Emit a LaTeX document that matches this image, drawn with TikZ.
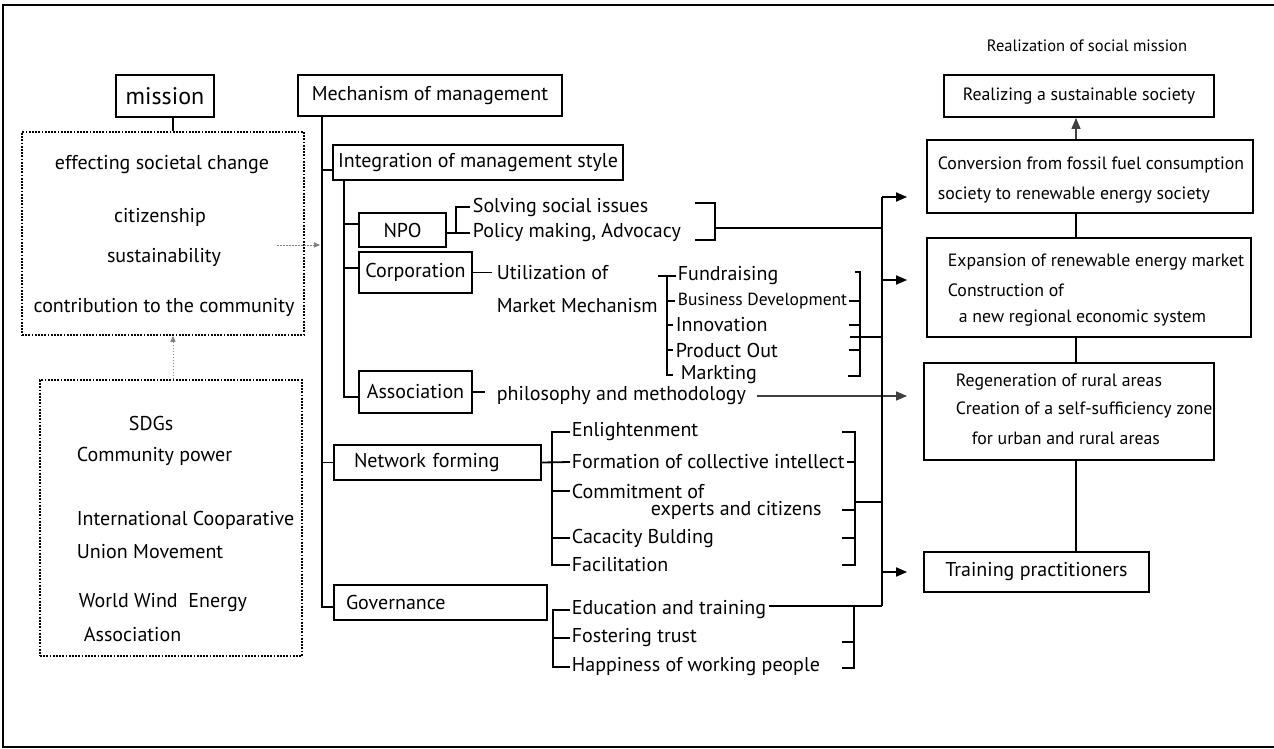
\documentclass[tikz,border=0pt]{standalone}
\usepackage{fontspec}
\setmainfont{PT Sans}
\usetikzlibrary{arrows.meta}

\newcommand{\fsz}[1]{\fontsize{#1}{#1}\selectfont}

\begin{document}
\begin{tikzpicture}[x=1pt,y=-1pt,>={Triangle[length=11pt,width=9pt]},
                    line width=1.8pt,font=\fsz{20}]
  \tikzstyle{box}=[draw,rectangle,inner sep=0pt,align=center]
  \tikzstyle{txt}=[inner sep=0pt,anchor=west]
  \tikzstyle{small}=[font=\fsz{17.8}]
  \tikzstyle{dotbox}=[draw,rectangle,dash pattern=on 1.8pt off 1.4pt]
  \tikzstyle{dotarrow}=[->,>={Triangle[length=6pt,width=5pt]},gray,line width=1pt,
                        dash pattern=on 1.5pt off 1.5pt]
  \tikzstyle{thinline}=[line width=1.3pt,black!75]

  \useasboundingbox (0,0) rectangle (1274,749);
  \draw[line width=2.4pt] (1290,5) -- (3,5) -- (3,747) -- (1290,747);

  % mission side
  \node[box,minimum width=98pt,minimum height=42pt,font=\fsz{24}] (mission) at (165,96) {mission};
  \node[dotbox,minimum width=282pt,minimum height=203pt] (values) at (163,233.5) {};
  \node (change)  at (162,165) {effecting societal change};
  \node (citizen) at (160,217) {citizenship};
  \node (sustain) at (164,257) {sustainability};
  \node (contrib) at (164,307) {contribution to the community};

  \node[dotbox,minimum width=262pt,minimum height=276pt] (sources) at (171,518) {};
  \node[txt] (sdgs)   at (128,423) {SDGs};
  \node[txt] (power)  at (76,456)  {Community power};
  \node[txt] (ica1)   at (76,520)  {International Cooparative};
  \node[txt] (ica2)   at (76,552)  {Union Movement};
  \node[txt] (wwea1)  at (78,603)  {World Wind\ \ Energy};
  \node[txt] (wwea2)  at (83,635)  {Association};

  % mechanism of management
  \node[box,minimum width=264pt,minimum height=41pt] (mech) at (430,95.5) {Mechanism of management};
  \node[box,minimum width=290pt,minimum height=35pt] (integ) at (478,162.5) {Integration of management style};
  \node[box,minimum width=87pt,minimum height=34pt] (npo) at (402.5,230) {NPO};
  \node[box,minimum width=113pt,minimum height=41pt] (corp) at (415.5,272.5) {Corporation};
  \node[box,minimum width=113pt,minimum height=42pt] (assoc) at (415.5,392) {Association};
  \node[box,align=left,minimum width=207pt,minimum height=35pt,text width=167pt,inner xsep=20pt] (network) at (437.5,462.5) {Network forming};
  \node[box,align=left,minimum width=213pt,minimum height=35pt,text width=189pt,inner xsep=12pt] (gov) at (440.5,602.5) {Governance};

  \node[txt] (solve)     at (472,207) {Solving social issues};
  \node[txt] (policy)    at (472,233) {Policy making, Advocacy};
  \node[txt] (util)      at (496,273) {Utilization of};
  \node[txt] (market)    at (496,306) {Market Mechanism};
  \node[txt] (fund)      at (677,276) {Fundraising};
  \node[txt,font=\fsz{17.5}] (busdev) at (677,301) {Business Development};
  \node[txt] (innov)     at (675,325) {Innovation};
  \node[txt] (product)   at (675,350) {Product Out};
  \node[txt] (mark)      at (680,375) {Markting};
  \node[txt] (philo)     at (496,396) {philosophy and methodology};
  \node[txt] (enlight)   at (571,432) {Enlightenment};
  \node[txt] (formation) at (571,462) {Formation of collective intellect};
  \node[txt] (commit)    at (571,491) {Commitment of};
  \node[txt] (experts)   at (650,510) {experts and citizens};
  \node[txt] (cacacity)  at (571,538) {Cacacity Bulding};
  \node[txt] (facil)     at (571,565) {Facilitation};
  \node[txt] (edu)       at (571,610) {Education and training};
  \node[txt] (foster)    at (571,638) {Fostering trust};
  \node[txt] (happy)     at (571,667) {Happiness of working people};

  % realization of social mission
  \node[font=\fsz{16.5}] (title) at (1087,46) {Realization of social mission};
  \node[box,small,minimum width=270pt,minimum height=42pt] (realize) at (1079,96) {Realizing a sustainable society};
  \node[box,minimum width=326pt,minimum height=73pt] (conv) at (1090,176.5) {};
  \node[txt,small] (conv1) at (937,165) {Conversion from fossil fuel consumption};
  \node[txt,small] (conv2) at (937,195) {society to renewable energy society};
  \node[box,minimum width=324pt,minimum height=99pt] (expand) at (1089,287.5) {};
  \node[txt,small] (exp1) at (947,262) {Expansion of renewable energy market};
  \node[txt,small] (exp2) at (947,290) {Construction of};
  \node[txt,small] (exp3) at (958,318) {a new regional economic system};
  \node[box,minimum width=290pt,minimum height=97pt] (regen) at (1069,411.5) {};
  \node[txt,small] (reg1) at (955,382) {Regeneration of rural areas};
  \node[txt,small] (reg2) at (955,410) {Creation of a self-sufficiency zone};
  \node[txt,small] (reg3) at (971,438) {for urban and rural areas};
  \node[box,minimum width=225pt,minimum height=40pt] (training) at (1036.5,572) {Training practitioners};

  \coordinate (trunk)    at ([xshift=25pt]mech.south west);
  \coordinate (subtrunk) at ([xshift=12pt]integ.south west);
  \coordinate (dotstart) at (277,245);
  \coordinate (npoR)     at (715,228);
  \coordinate (npoRt)    at (715,203);
  \coordinate (npoRb)    at (715,240);
  \coordinate (cspine)   at (667,276);
  \coordinate (crT)      at (860,272);
  \coordinate (crB)      at (860,376);
  \coordinate (corpOut)  at (850,337);
  \coordinate (nRT)      at (855,432);
  \coordinate (nRB)      at (855,565);
  \coordinate (netOut)   at (855,502);
  \coordinate (gRm)      at (854,642);
  \coordinate (gRB)      at (854,668);
  \coordinate (colTop)   at (882,197);
  \coordinate (colExp)   at (882,280);
  \coordinate (colBot)   at (882,606);
  \coordinate (rcol)     at (1076,0);

  % left side
  \draw ([xshift=8pt]mission.south) -- ([xshift=8pt]mission.south |- values.north);
  \draw[dotarrow] ([xshift=2pt]sources.north) -- ([xshift=2pt]sources.north |- values.south);
  \draw[dotarrow,shorten >=2pt] (dotstart) -- (dotstart -| trunk);

  % trunks
  \draw (trunk) |- ([yshift=-7.5pt]integ.west);
  \draw (trunk) |- (network.west);
  \draw (trunk) |- ([yshift=-4.5pt]gov.west);
  \draw (subtrunk) |- ([yshift=6pt]npo.west);
  \draw (subtrunk) |- ([yshift=4.5pt]corp.west);
  \draw (subtrunk) |- ([yshift=-5pt]assoc.west);

  % NPO
  \draw ([xshift=-2pt]solve.west) -| ([xshift=-16pt]policy.west) -- ([xshift=-2pt]policy.west);
  \draw (npo.east |- policy.west) -- ([xshift=-16pt]policy.west);
  \draw ([xshift=-20pt]npoRt) -- (npoRt) -- (npoRb) -- ([xshift=-20pt]npoRb);
  \draw (npoR) -- (npoR -| colTop);

  % corporation
  \draw[shorten >=4pt] (corp.east) -- (corp.east -| util.west);
  \draw ([xshift=-9pt]fund.west -| cspine) -- ([xshift=-1pt]fund.west);
  \draw (fund.west -| cspine) -- (mark.west -| cspine) -- ([xshift=-7pt]mark.west);
  \foreach \t in {busdev,innov,product}
    \draw (\t.west -| cspine) -- ([xshift=-2pt]\t.west);
  \draw ([xshift=-5pt]crT) -- (crT) -- (crB) -- ([xshift=-12pt]crB);
  \foreach \t in {busdev,innov,product}
    \draw (\t.west -| crT) -- ([xshift=-11pt]\t.west -| crT);
  \draw (corpOut) -- (corpOut -| colTop);

  % association
  \draw[shorten >=11pt] (assoc.east) -- (assoc.east -| philo.west);
  \draw[->,thinline,shorten <=10pt,shorten >=16pt] (philo.east) -- (philo.east -| regen.west);

  % network forming
  \draw (network.east) -- ([xshift=-1pt]formation.west);
  \draw ([xshift=-1pt]enlight.west) -| ([xshift=-19pt]facil.west) -- ([xshift=-1pt]facil.west);
  \foreach \t in {commit,cacacity}
    \draw ([xshift=-19pt]\t.west) -- ([xshift=-1pt]\t.west);
  \draw ([xshift=-13pt]nRT) -- (nRT) -- (nRB) -- ([xshift=-13pt]nRB);
  \draw ([xshift=1pt]formation.east) -- (formation.east -| nRT);
  \draw ([xshift=-13pt]nRT |- experts.east) -- (nRT |- experts.east);
  \draw ([xshift=-13pt]nRT |- cacacity.east) -- (nRT |- cacacity.east);
  \draw (netOut) -- (netOut -| colTop);

  % governance
  \draw ([xshift=-1pt]edu.west) -| ([xshift=-18pt]happy.west) -- ([xshift=-1pt]happy.west);
  \draw ([xshift=-18pt]foster.west) -- ([xshift=-1pt]foster.west);
  \draw (gRB |- colBot) -- (gRB) -- ([xshift=-12pt]gRB);
  \draw ([xshift=-12pt]gRm) -- (gRm);
  \draw ([xshift=2pt]edu.east |- colBot) -- (colBot);

  % collector and arrows
  \draw (colTop) -- (colBot);
  \draw[->,shorten >=19pt] (colTop) -- (colTop -| conv.west);
  \draw[->,shorten >=19pt] (colExp) -- (colExp -| expand.west);
  \draw[->,shorten >=16pt] (colBot |- training.west) -- (training.west);

  % right column
  \draw[->,thinline] (rcol |- conv.north) -- (rcol |- realize.south);
  \draw (rcol |- conv.south) -- (rcol |- expand.north);
  \draw (rcol |- expand.south) -- (rcol |- regen.north);
  \draw (rcol |- regen.south) -- (rcol |- training.north);

\end{tikzpicture}
\end{document}
